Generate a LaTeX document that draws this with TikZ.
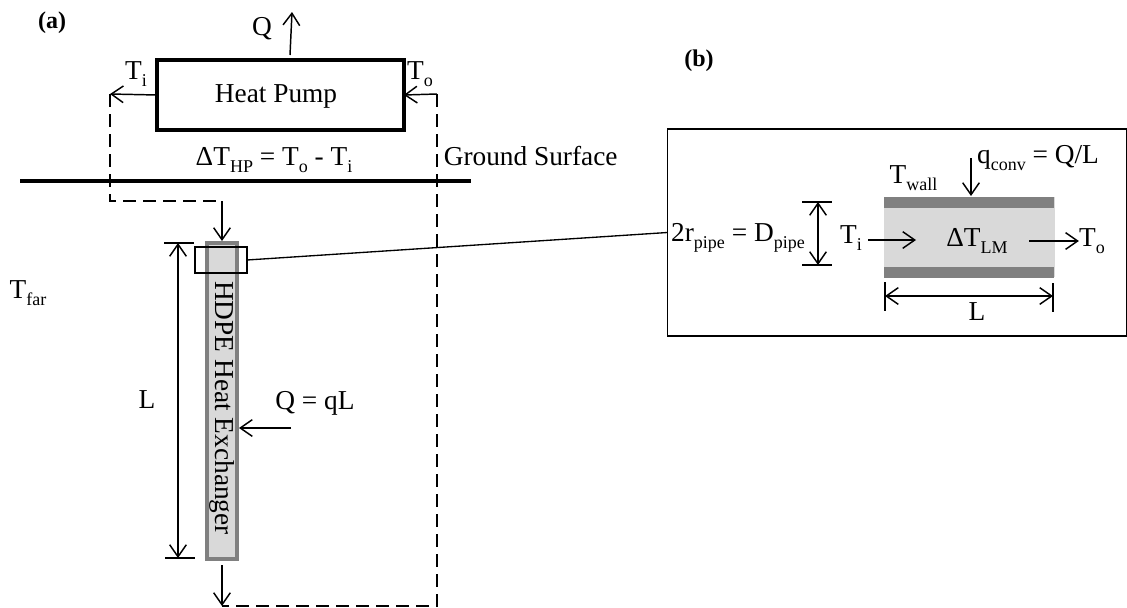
\documentclass[tikz,border=0pt]{standalone}
\usepackage{fontspec}
\setmainfont{Liberation Serif}
\usetikzlibrary{arrows.meta}
\definecolor{pipefill}{HTML}{D9D9D9}
\definecolor{pipewall}{HTML}{808080}
\newcommand{\lowtxt}[1]{\raisebox{-.25em}{\fontsize{13.5}{14}\selectfont #1}}
\tikzset{
  lbl/.style={inner sep=0pt,font=\fontsize{20.5}{22}\selectfont},
  tag/.style={inner sep=0pt,font=\fontsize{18}{20}\selectfont\bfseries},
  flow/.style={line width=1.1pt,-{Straight Barb[length=9pt,width=12.5pt,line width=1.1pt]}},
  span/.style={line width=1.1pt,{Straight Barb[length=9pt,width=12.5pt,line width=1.1pt]}-{Straight Barb[length=9pt,width=12.5pt,line width=1.1pt]}},
  loop/.style={line width=1pt,dash pattern=on 10pt off 5pt},
}
\begin{document}
\begin{tikzpicture}[x=.75pt,y=-.75pt]
  \useasboundingbox (0,0) rectangle (1127,607);
  % part (a)
  \node[tag] (taga) at (52,23) {(a)};
  \node[draw,line width=2.6pt,minimum width=185pt,minimum height=52.5pt,inner sep=0pt,outer sep=0pt] (heatpump) at (280.5,95) {};
  \node[lbl] (heatpumptxt) at (276,96) {Heat Pump};
  \node[lbl] (qout) at (262,29) {Q};
  \node[lbl] (tileft) at (136,74) {T\lowtxt{i}};
  \node[lbl] (toright) at (420,74) {T\lowtxt{o}};
  \node[lbl] (dthp) at (274,160) {ΔT\lowtxt{HP} = T\lowtxt{o} - T\lowtxt{i}};
  \node[lbl,anchor=west] (ground) at (443.5,156) {Ground Surface};
  \node[lbl] (tfar) at (28,293) {T\lowtxt{far}};
  \node[lbl] (lena) at (147,400) {L};
  \node[lbl] (qql) at (315,403) {Q = qL};
  \coordinate (qfoot) at (290,55);
  \coordinate (qtip) at (292,12);
  \coordinate (outcorner) at (110,94);
  \coordinate (lowcorner) at (110,201);
  \coordinate (incorner) at (222,201);
  \coordinate (retcorner) at (437,94);
  \coordinate (botcorner) at (437,606);
  \coordinate (botleft) at (222,606);
  \draw[line width=3pt] (20,181) coordinate (groundl) -- (471,181) coordinate (groundr);
  \node[draw=pipewall,fill=pipefill,line width=3.2pt,minimum width=22.5pt,minimum height=237pt,inner sep=0pt,outer sep=0pt] (pipe) at (222,401) {};
  \node[lbl,rotate=-90] (pipetxt) at (222,408) {HDPE Heat Exchanger};
  \node[draw,line width=1pt,minimum width=39pt,minimum height=19.5pt,inner sep=0pt,outer sep=0pt] (detail) at (221,260) {};
  \draw[flow] (qfoot) -- (qtip);
  \draw[flow] (heatpump.west) -- (outcorner);
  \draw[loop] (outcorner) -- (lowcorner) -- (incorner);
  \draw[flow] (incorner) -- (222,241);
  \draw[flow] (retcorner) -- (heatpump.east);
  \draw[loop] (retcorner) -- (botcorner) -- (botleft);
  \draw[flow] (222,565) -- (botleft);
  \draw[line width=1pt] (164,243) -- (194,243);
  \draw[line width=1pt] (165,558) -- (195,558);
  \draw[span] (178,243) -- (178,558);
  \draw[flow] (291,428) -- (239,428);
  % part (b)
  \node[tag] (tagb) at (699,61) {(b)};
  \node[draw,line width=1.2pt,minimum width=344.5pt,minimum height=155pt,inner sep=0pt,outer sep=0pt] (zoombox) at (897,232.5) {};
  \draw[line width=1pt] (detail.east) -- (zoombox.west);
  \fill[pipefill] (884,197) rectangle (1055,277);
  \foreach \ytop in {197,267} {
    \fill[pipewall] (884,\ytop) rectangle (1054,\ytop+10.5);
  }
  \node[lbl] (dia) at (738,238) {2r\lowtxt{pipe} = D\lowtxt{pipe}};
  \node[lbl] (tiin) at (851,238) {T\lowtxt{i}};
  \node[lbl] (dtlm) at (977,241) {ΔT\lowtxt{LM}};
  \node[lbl] (toout) at (1092,241) {T\lowtxt{o}};
  \node[lbl] (lenb) at (977,312) {L};
  \node[lbl] (twall) at (913.5,178) {T\lowtxt{wall}};
  \node[lbl] (qconv) at (1038,158) {q\lowtxt{conv} = Q/L};
  \draw[line width=1pt] (802,202) -- (832,202);
  \draw[line width=1pt] (802,265) -- (832,265);
  \draw[span] (818,202) -- (818,265);
  \draw[flow] (868,240) -- (916,240);
  \draw[flow] (1029,241) -- (toout.west);
  \draw[flow] (971,158) -- (971,196);
  \draw[line width=1pt] (885,282) -- (885,311);
  \draw[line width=1pt] (1053,283) -- (1053,312);
  \draw[span] (885,296) -- (1053,296);
\end{tikzpicture}
\end{document}
